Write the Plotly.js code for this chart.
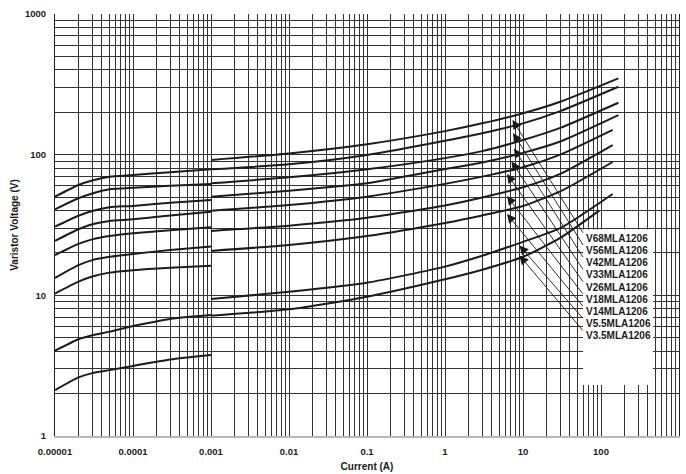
<!DOCTYPE html>
<html>
<head>
<meta charset="utf-8">
<script src="https://cdn.plot.ly/plotly-3.0.1.min.js"></script>
<style>html,body{margin:0;padding:0;background:#fff}#chart{width:686px;height:474px}</style>
</head>
<body>
<div id="chart"></div>
<script>
// ---- data ----
const deviceNames = ["V68MLA1206","V56MLA1206","V42MLA1206","V33MLA1206","V26MLA1206","V18MLA1206","V14MLA1206","V5.5MLA1206","V3.5MLA1206"];

// low-current segment (1e-5 A .. 1e-3 A)
const lowCurrent = [1e-5, 2e-5, 3e-5, 5e-5, 1e-4, 3e-4, 1e-3];
const lowV0 = [50.3, 60.9, 65.5, 69.7, 71.7, 75.0, 78.7];
const lowV1 = [40.9, 49.0, 53.0, 56.7, 58.2, 60.0, 61.9];
const lowV2 = [30.8, 36.8, 39.8, 42.3, 43.2, 45.5, 47.6];
const lowV3 = [24.4, 29.5, 32.0, 33.8, 34.7, 37.0, 39.3];
const lowV4 = [19.3, 23.2, 25.0, 26.4, 27.6, 29.0, 30.5];
const lowV5 = [13.3, 16.4, 17.8, 18.8, 19.7, 21.0, 22.2];
const lowV6 = [10.3, 12.5, 13.6, 14.5, 15.1, 15.7, 16.2];
const lowV7 = [4.04, 4.87, 5.2, 5.52, 6.05, 6.8, 7.25];
const lowV8 = [2.12, 2.61, 2.8, 2.94, 3.15, 3.5, 3.77];

// high-current segment (1e-3 A .. end)
const highCurrent = [0.001, 0.01, 0.1, 1, 3, 10, 30];
const highV0 = [91.6, 102, 118.6, 147, 167, 197, 238];
const highV1 = [78.7, 85.4, 99.5, 125.5, 142, 167, 204];
const highV2 = [62.6, 69.0, 78.7, 94.5, 106, 127, 155];
const highV3 = [50.3, 55.4, 62.6, 79.0, 88, 103, 124];
const highV4 = [40.0, 43.9, 50.3, 62.0, 69.8, 81.3, 100];
const highV5 = [28.7, 31.3, 35.6, 43.5, 49.6, 58.6, 73];
const highV6 = [20.7, 22.8, 26.4, 32.7, 37.0, 43.2, 54.8];
const highV7 = [9.4, 10.6, 12.3, 16.0, 19.1, 24.0, 30.0];
const highV8 = [7.17, 7.95, 9.78, 13.0, 15.2, 18.8, 25.6];
const endCurrent = [167, 167, 167, 167, 141, 141, 141, 141, 95];
const endVoltage = [349, 304, 234, 191, 150, 117, 88.7, 52.5, 40];

const xTickDecades = [1e-5, 1e-4, 1e-3, 0.01, 0.1, 1, 10, 100, 1000];
const xTickText = ["0.00001","0.0001","0.001","0.01","0.1","1","10","100","1000"];
const yTickDecades = [1, 10, 100, 1000];
const yTickText = ["1","10","100","1000"];

// ---- build ----
const lows = [lowV0,lowV1,lowV2,lowV3,lowV4,lowV5,lowV6,lowV7,lowV8];
const highs = [highV0,highV1,highV2,highV3,highV4,highV5,highV6,highV7,highV8];

const lineStyle = {color:'#1c1c1c', width:2, shape:'spline', smoothing:0.6};
const traces = [];
for (let i = 0; i < lows.length; i++) {
  traces.push({x: lowCurrent, y: lows[i], mode:'lines', line: lineStyle, hoverinfo:'skip'});
  traces.push({x: highCurrent.concat([endCurrent[i]]), y: highs[i].concat([endVoltage[i]]),
               mode:'lines', line: lineStyle, hoverinfo:'skip'});
}

function gridTicks(decades, labels) {
  const vals = [], text = [];
  for (let d = 0; d < decades.length; d++) {
    for (let m = 1; m <= 9; m++) {
      if (d === decades.length - 1 && m > 1) break;
      vals.push(decades[d] * m);
      text.push(m === 1 ? labels[d] : '');
    }
  }
  return {vals, text};
}
const xg = gridTicks(xTickDecades, xTickText);
const yg = gridTicks(yTickDecades, yTickText);

// pixel helpers for the callouts (plot area: x 55..679, y 14..436)
const L = 55, R = 7, T = 14, B = 38, W = 686, H = 474;
const pw = W - L - R, ph = H - T - B;
const px2lx = px => -5 + 8 * (px - L) / pw;      // log10 of current
const py2ly = py => 3 * (H - B - py) / ph;       // log10 of voltage

const fontFam = '"Liberation Sans", Arial, Helvetica, sans-serif';
const heads = [[512.5,120],[513,133],[514,148.5],[511.5,161.5],[507,174],[507,196],[507,214],[519.5,245.5],[519.5,255.5]];
const labelY0 = 238.3, labelStep = 12.2, labelX = 584;
const annotations = [];
deviceNames.forEach((name, i) => {
  const ly = labelY0 + i * labelStep;
  annotations.push({xref:'paper', yref:'paper', x:(labelX - L)/pw, y:(H - B - ly)/ph,
    xanchor:'left', yanchor:'middle', showarrow:false, text:name,
    font:{family:fontFam, size:10, weight:'bold', color:'#1a1a1a'}});
  annotations.push({xref:'x', yref:'y', axref:'x', ayref:'y',
    x: px2lx(heads[i][0]), y: py2ly(heads[i][1]),
    ax: px2lx(584), ay: py2ly(ly - 4),
    text:'', showarrow:true, arrowhead:2, arrowsize:2, arrowwidth:0.9, arrowcolor:'#1a1a1a'});
});

const gridColor = '#333';
const layout = {
  width: W, height: H,
  margin: {l:L, r:R, t:T, b:B, pad:0},
  paper_bgcolor:'#fff', plot_bgcolor:'#fff',
  showlegend:false,
  font:{family:fontFam, color:'#1a1a1a'},
  xaxis:{type:'log', range:[-5,3], tickmode:'array', tickvals:xg.vals, ticktext:xg.text,
    showgrid:true, gridcolor:gridColor, gridwidth:1, zeroline:false, ticks:'',
    ticklabelstandoff:6,
    showline:true, linecolor:'#b8b8b8', linewidth:2, mirror:false,
    tickfont:{family:fontFam, size:9.5, weight:'bold', color:'#1a1a1a'},
    title:{text:'Current (A)', font:{family:fontFam, size:10, weight:'bold', color:'#1a1a1a'}, standoff:7}},
  yaxis:{type:'log', range:[0,3], tickmode:'array', tickvals:yg.vals, ticktext:yg.text,
    showgrid:true, gridcolor:gridColor, gridwidth:1, zeroline:false, ticks:'',
    ticklabelstandoff:6,
    showline:true, linecolor:'#222', linewidth:1, mirror:true,
    tickfont:{family:fontFam, size:9.5, weight:'bold', color:'#1a1a1a'},
    title:{text:'Varistor Voltage (V)', font:{family:fontFam, size:10, weight:'bold', color:'#1a1a1a'}, standoff:4}},
  shapes:[{type:'rect', xref:'x', yref:'y', layer:'between',
    x0:Math.pow(10, px2lx(583)), x1:Math.pow(10, px2lx(653)),
    y0:Math.pow(10, py2ly(385)), y1:Math.pow(10, py2ly(229.5)),
    fillcolor:'#fff', line:{width:0}}],
  annotations: annotations
};

Plotly.newPlot('chart', traces, layout, {staticPlot:true, displayModeBar:false});
</script>
</body>
</html>
